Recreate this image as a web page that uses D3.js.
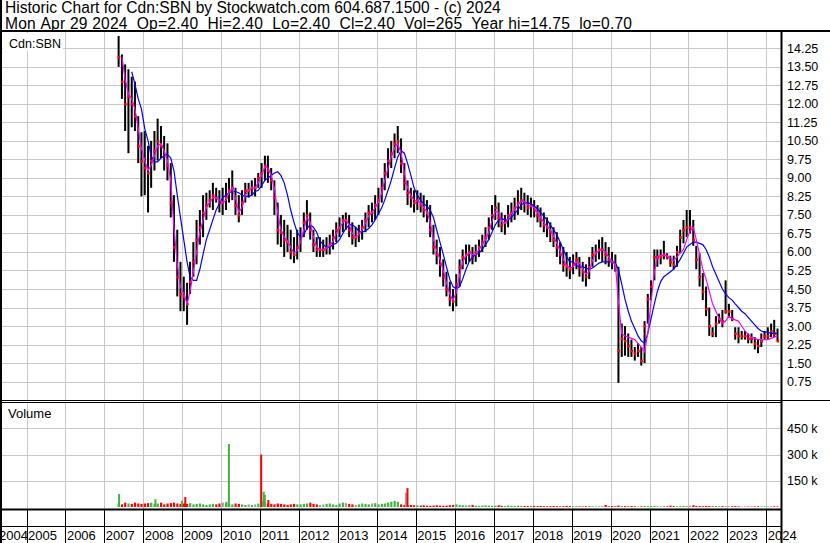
<!DOCTYPE html>
<html><head><meta charset="utf-8">
<script src="https://cdn.jsdelivr.net/npm/d3@7"></script>
<style>html,body{margin:0;padding:0;background:#fff;overflow:hidden}svg{display:block;font-family:"Liberation Sans",Arial,sans-serif}</style>
</head><body><svg id="c" width="830" height="543"></svg>
<script>
// ---------- data (monthly, May 2007 .. Apr 2024) ----------
const firstMonth = [2007, 5];
const yearTicks = [2004,2005,2006,2007,2008,2009,2010,2011,2012,2013,2014,2015,2016,2017,2018,2019,2020,2021,2022,2023,2024];
const priceTicks = [0.75,1.5,2.25,3,3.75,4.5,5.25,6,6.75,7.5,8.25,9,9.75,10.5,11.25,12,12.75,13.5,14.25];
const volumeTicks = [150,300,450];

const high = [
 14.75,14.0,13.6,13.4,13.1,12.9,11.5,10.85,
 10.9,10.3,10.5,10.9,11.4,11.1,10.7,10.4,9.6,8.3,6.9,5.6,
 5.0,4.75,5.6,6.4,7.3,7.7,8.3,8.4,8.5,8.8,8.6,8.5,
 8.6,8.8,9.0,9.3,8.6,8.3,8.5,8.8,8.8,8.9,9.0,9.2,
 9.6,9.9,9.9,9.4,8.9,8.0,7.5,7.3,7.1,6.9,6.6,6.9,
 7.0,7.6,8.1,7.6,6.9,6.6,6.6,6.5,6.6,6.7,6.9,7.2,
 7.4,7.5,7.6,7.5,7.2,7.0,7.1,7.3,7.6,7.9,8.0,8.3,
 8.6,9.0,9.6,10.2,10.5,10.8,11.1,10.6,9.6,8.9,8.6,8.5,
 8.5,8.4,8.3,8.1,7.9,7.1,6.5,6.2,5.7,5.2,4.8,4.5,
 5.1,5.7,6.1,6.3,6.3,6.2,6.3,6.5,6.7,7.0,7.4,7.9,
 8.3,8.0,7.6,7.5,7.9,8.0,8.2,8.5,8.6,8.4,8.3,8.2,
 8.1,7.9,7.8,7.6,7.4,7.2,7.0,6.8,6.4,6.2,6.0,5.8,
 5.9,6.0,5.8,5.6,5.5,5.8,6.2,6.3,6.5,6.6,6.4,6.2,
 6.0,5.9,5.4,3.1,3.0,2.7,2.45,2.15,2.3,2.15,3.2,4.3,
 4.85,6.1,6.1,6.1,6.45,5.95,5.85,5.85,6.25,6.9,7.3,7.7,
 7.7,7.3,6.25,5.95,5.15,4.6,3.75,2.95,3.4,3.5,3.65,4.85,
 3.9,3.65,2.95,2.95,2.8,2.8,2.7,2.7,2.55,2.45,2.7,2.8,
 2.95,3.1,3.25,2.9];
const low = [
 13.5,12.2,10.9,10.0,11.05,10.9,9.6,8.25,
 8.3,7.6,8.6,9.3,9.7,9.8,9.3,8.9,7.4,5.6,4.2,3.6,
 3.6,3.05,4.3,5.0,5.5,6.3,6.6,7.3,7.8,7.7,8.0,7.6,
 7.5,7.7,8.0,8.1,7.5,7.2,7.5,8.0,8.2,8.3,8.25,8.6,
 8.6,8.9,8.8,8.5,7.5,6.3,6.2,5.8,6.0,5.7,5.55,5.7,
 6.0,6.6,6.9,6.5,6.0,5.8,5.8,5.8,5.9,5.9,6.1,6.4,
 6.6,6.8,6.9,6.6,6.3,6.2,6.4,6.5,6.8,7.0,7.2,7.3,
 7.5,8.0,8.5,9.0,9.4,9.8,10.0,9.2,8.5,7.9,7.8,7.6,
 7.7,7.6,7.4,7.2,6.6,5.9,5.5,5.0,4.6,4.2,3.8,3.6,
 3.8,4.6,5.3,5.5,5.6,5.5,5.6,5.8,6.0,6.2,6.5,6.9,
 7.3,7.0,6.8,6.7,7.0,7.2,7.3,7.5,7.7,7.6,7.5,7.4,
 7.4,7.2,7.0,6.8,6.6,6.4,6.2,5.8,5.5,5.2,5.0,4.9,
 5.1,5.3,5.0,4.8,4.6,4.9,5.4,5.6,5.7,5.6,5.5,5.4,
 5.3,5.2,0.7,1.75,1.8,1.75,1.75,1.6,1.75,1.4,1.5,3.1,
 4.05,4.85,5.4,5.5,5.7,5.7,5.4,5.3,5.4,5.95,6.35,6.6,
 6.75,6.25,5.3,4.6,4.05,3.4,2.6,2.55,2.55,3.1,2.95,3.5,
 3.35,3.2,2.45,2.3,2.45,2.45,2.3,2.3,2.05,1.9,2.15,2.45,
 2.45,2.55,2.55,2.4];
const close = [
 13.9,12.9,12.0,12.3,12.0,11.5,10.3,9.7,
 9.4,9.2,9.7,10.1,10.5,10.3,9.9,9.5,8.0,6.2,5.0,4.3,
 4.2,3.9,4.8,5.6,6.5,7.0,7.6,7.9,8.1,8.3,8.2,8.0,
 8.0,8.2,8.5,8.6,7.9,7.5,8.0,8.5,8.5,8.6,8.6,9.0,
 9.2,9.5,9.3,8.9,8.2,6.9,6.8,6.5,6.4,6.0,5.9,6.2,
 6.6,7.2,7.5,6.9,6.3,6.1,6.1,6.1,6.2,6.3,6.6,6.9,
 7.0,7.3,7.3,6.9,6.6,6.6,6.8,7.0,7.3,7.6,7.6,7.9,
 8.1,8.6,9.2,9.7,10.0,10.4,10.5,9.6,8.8,8.4,8.2,8.0,
 8.1,7.9,7.7,7.6,6.9,6.2,5.9,5.5,5.0,4.5,4.1,4.0,
 4.7,5.4,5.8,5.9,6.0,5.8,6.0,6.2,6.4,6.6,7.0,7.5,
 7.8,7.4,7.1,7.2,7.5,7.6,7.8,8.0,8.1,8.0,7.8,7.9,
 7.7,7.5,7.3,7.1,7.0,6.8,6.5,6.2,5.9,5.5,5.4,5.3,
 5.5,5.7,5.4,5.2,5.0,5.4,5.9,6.0,6.1,6.1,5.9,5.7,
 5.6,5.4,2.0,2.5,2.4,2.2,2.0,1.9,2.0,1.6,3.0,4.1,
 4.6,5.8,5.8,5.8,5.9,5.8,5.6,5.5,6.0,6.6,6.9,7.0,
 7.0,6.5,5.7,5.0,4.4,3.7,3.0,2.7,3.1,3.3,3.2,3.6,
 3.6,3.3,2.7,2.6,2.6,2.6,2.5,2.5,2.3,2.2,2.4,2.6,
 2.6,2.8,2.7,2.4];
const maFast = [
 null,13.9,13.0,12.4,12.2,11.8,11.0,10.2,
 9.7,9.3,9.5,9.9,10.3,10.4,10.1,9.7,8.9,7.0,5.5,4.6,
 4.3,3.9,4.4,5.2,6.0,6.8,7.3,7.8,8.0,8.2,8.2,8.1,
 8.0,8.1,8.4,8.6,8.2,7.6,7.8,8.3,8.5,8.6,8.6,8.8,
 9.1,9.45,9.4,9.1,8.6,7.6,6.9,6.6,6.45,6.2,5.95,6.05,
 6.4,6.9,7.4,7.2,6.6,6.2,6.1,6.1,6.15,6.25,6.45,6.75,
 6.95,7.2,7.3,7.1,6.75,6.6,6.7,6.9,7.15,7.45,7.6,7.8,
 8.0,8.4,8.9,9.4,9.85,10.2,10.4,10.0,9.2,8.6,8.3,8.1,
 8.05,8.0,7.8,7.65,7.2,6.5,6.05,5.7,5.25,4.75,4.3,4.05,
 4.35,5.05,5.6,5.85,5.95,5.9,5.9,6.1,6.3,6.5,6.8,7.25,
 7.65,7.6,7.25,7.15,7.35,7.55,7.7,7.9,8.05,8.05,7.9,7.85,
 7.8,7.6,7.4,7.2,7.05,6.9,6.65,6.35,6.05,5.7,5.45,5.35,
 5.4,5.6,5.55,5.3,5.1,5.2,5.65,5.95,6.05,6.1,6.0,5.8,
 5.6,5.5,4.0,2.7,2.6,2.55,2.5,2.45,2.3,2.15,1.95,2.7,
 4.0,5.2,5.8,5.85,5.85,5.85,5.75,5.65,5.8,5.95,6.1,6.5,
 6.85,7.0,6.5,5.9,5.3,4.9,4.4,3.9,3.6,3.3,3.1,3.2,
 3.4,3.3,3.25,3.2,3.0,2.8,2.65,2.55,2.5,2.45,2.45,2.45,
 2.45,2.5,2.55,2.6];
const maSlow = [
 null,null,null,null,13.3,12.8,12.2,11.8,
 11.0,10.5,9.9,9.65,9.65,9.8,9.9,9.95,9.8,9.3,8.3,7.4,
 6.5,5.6,5.0,4.85,4.85,5.3,5.9,6.5,6.9,7.3,7.7,7.95,
 8.2,8.3,8.4,8.45,8.45,8.4,8.3,8.25,8.25,8.3,8.45,8.5,
 8.7,8.9,9.0,9.1,9.2,9.25,9.1,8.8,8.3,7.7,7.2,6.8,
 6.6,6.7,6.95,7.1,7.0,6.8,6.45,6.3,6.2,6.2,6.3,6.35,
 6.5,6.75,6.95,7.1,7.1,7.0,6.85,6.8,6.85,6.95,7.1,7.3,
 7.55,7.8,8.1,8.5,8.9,9.4,9.85,10.1,10.0,9.6,9.1,8.6,
 8.3,8.1,7.95,7.85,7.7,7.4,6.9,6.4,5.9,5.4,4.9,4.6,
 4.5,4.6,4.9,5.3,5.6,5.8,5.9,5.95,6.1,6.3,6.5,6.8,
 7.1,7.3,7.35,7.3,7.3,7.4,7.55,7.7,7.9,8.0,8.0,7.95,
 7.85,7.75,7.6,7.45,7.3,7.1,6.9,6.7,6.4,6.1,5.8,5.6,
 5.6,5.45,5.4,5.4,5.35,5.3,5.35,5.45,5.55,5.6,5.6,5.6,
 5.6,5.55,5.3,4.7,4.1,3.6,3.2,2.9,2.6,2.4,2.3,2.7,
 3.3,3.9,4.4,4.8,5.0,5.1,5.2,5.3,5.5,5.7,5.95,6.2,
 6.3,6.4,6.4,6.35,6.3,6.1,5.8,5.4,5.1,4.8,4.5,4.3,
 4.15,4.05,3.9,3.75,3.6,3.5,3.35,3.2,3.05,2.9,2.8,2.75,
 2.75,2.7,2.7,2.7];
const volume = [
 20,15,25,20,18,25,20,18,
 20,22,25,18,20,25,15,20,22,25,20,18,
 20,18,22,15,18,20,15,12,15,18,15,20,
 25,20,18,15,20,18,15,12,15,12,15,20,
 30,25,20,18,15,20,18,15,12,15,18,15,
 15,18,20,25,18,15,12,15,18,20,15,12,
 20,25,22,18,15,12,15,20,18,15,20,22,
 15,18,20,25,30,35,30,15,12,10,12,10,
 10,8,10,8,7,8,10,8,7,8,10,12,
 15,12,10,8,10,12,8,7,8,10,8,7,
 8,10,7,6,8,7,6,8,7,6,5,6,
 6,5,6,5,4,5,6,5,4,5,6,5,
 4,5,4,3,4,5,4,3,4,5,12,4,
 5,4,8,6,5,4,5,4,3,4,6,5,
 5,6,5,4,5,4,8,5,4,5,6,5,
 8,10,6,5,4,6,5,4,5,4,5,4,
 5,4,5,4,3,4,3,4,3,4,3,4,
 4,3,4,3];
const spikeDates = ["2007-05-10","2008-04-15","2008-12-20","2009-01-20","2010-02-10","2010-03-05","2011-01-02","2011-01-25","2011-02-05","2011-03-10","2014-09-20","2014-10-05"];
const spikeVolumes = [74,45,35,57,30,360,300,87,70,40,82,108];
const spikeColors = ["up","up","up","down","up","up","down","up","up","down","flat","down"];

const title1 = "Historic Chart for Cdn:SBN by Stockwatch.com 604.687.1500 - (c) 2024";
const title2 = "Mon Apr 29 2024  Op=2.40  Hi=2.40  Lo=2.40  Cl=2.40  Vol=265  Year hi=14.75  lo=0.70";

// ---------- layout ----------
const W = 830, H = 543;
const plotL = 2, plotR = 781;
const priceTop = 32, priceBot = 400;
const volTop = 403, volBot = 509;
const svg = d3.select("#c");
const colUp = "#3fb53f", colDown = "#ff0000", colFlat = "#a0a0a0";

const x = d3.scaleTime().domain([new Date(2005,0,1), new Date(2023,0,1)]).range([26.5, 727.4]);
const yP = d3.scaleLinear().domain([0, 14.25]).range([400.1, 48.3]);
const yV = d3.scaleLinear().domain([0, 450]).range([507, 428.3]);

const monthDate = (i, day) => new Date(firstMonth[0], firstMonth[1]-1+i, day);
const n = close.length;
const idx = d3.range(n);

svg.append("rect").attr("width",W).attr("height",H).attr("fill","#fff");

const defs = svg.append("defs");
defs.append("clipPath").attr("id","cp").append("rect").attr("x",plotL).attr("y",priceTop).attr("width",plotR-plotL).attr("height",priceBot-priceTop);
defs.append("clipPath").attr("id","cv").append("rect").attr("x",plotL).attr("y",volTop).attr("width",plotR-plotL).attr("height",volBot-volTop);

const yearX = yearTicks.map(y => x(new Date(y,0,1)));

// grids
const gp = svg.append("g").attr("clip-path","url(#cp)");
gp.selectAll(".hg").data(priceTicks).join("line")
  .attr("x1",plotL).attr("x2",plotR).attr("y1",d=>Math.round(yP(d))+0.5).attr("y2",d=>Math.round(yP(d))+0.5)
  .attr("stroke","#c8c8c8");
gp.selectAll(".vg").data(yearTicks).join("line")
  .attr("x1",d=>Math.round(x(new Date(d,0,1)))+0.5).attr("x2",d=>Math.round(x(new Date(d,0,1)))+0.5)
  .attr("y1",priceTop).attr("y2",priceBot).attr("stroke","#c8c8c8");

const gv = svg.append("g").attr("clip-path","url(#cv)");
gv.selectAll(".hg").data(volumeTicks).join("line")
  .attr("x1",plotL).attr("x2",plotR).attr("y1",d=>Math.round(yV(d))+0.5).attr("y2",d=>Math.round(yV(d))+0.5)
  .attr("stroke","#c8c8c8");
gv.selectAll(".vg").data(yearTicks).join("line")
  .attr("x1",d=>Math.round(x(new Date(d,0,1)))+0.5).attr("x2",d=>Math.round(x(new Date(d,0,1)))+0.5)
  .attr("y1",volTop).attr("y2",volBot).attr("stroke","#c8c8c8");

// price bars
gp.selectAll(".bar").data(idx).join("rect")
  .attr("x",i=>x(monthDate(i,1))+0.5).attr("width",2)
  .attr("y",i=>yP(high[i])).attr("height",i=>Math.max(1,yP(low[i])-yP(high[i])))
  .attr("fill","#000");
// close marks
gp.selectAll(".cl").data(idx).join("rect")
  .attr("x",i=>x(monthDate(i,15))-1).attr("width",2.6)
  .attr("y",i=>yP(close[i])-1).attr("height",2.6)
  .attr("fill","#ff0000");

const lineOf = arr => d3.line().defined(i=>arr[i]!=null).x(i=>x(monthDate(i,15))).y(i=>yP(arr[i]));
gp.append("path").datum(idx).attr("d",lineOf(maSlow)).attr("fill","none").attr("stroke","#0000ff").attr("stroke-width",1.2);
gp.append("path").datum(idx).attr("d",lineOf(maFast)).attr("fill","none").attr("stroke","#ff00ff").attr("stroke-width",1.2);

// volume bars
const volColor = i => i===0 || close[i]>close[i-1] ? colUp : (close[i]<close[i-1] ? colDown : colFlat);
gv.selectAll(".vb").data(idx).join("rect")
  .attr("x",i=>x(monthDate(i,1))+0.5).attr("width",2.2)
  .attr("y",i=>yV(volume[i])).attr("height",i=>yV(0)-yV(volume[i]))
  .attr("fill",volColor);
const parse = d3.timeParse("%Y-%m-%d");
gv.selectAll(".sp").data(spikeDates.map((d,k)=>k)).join("rect")
  .attr("x",k=>x(parse(spikeDates[k]))).attr("width",2)
  .attr("y",k=>yV(spikeVolumes[k])).attr("height",k=>yV(0)-yV(spikeVolumes[k]))
  .attr("fill",k=>spikeColors[k]==="up"?colUp:spikeColors[k]==="down"?colDown:colFlat);

// year labels (bottom band)
svg.append("g").selectAll("text").data(yearTicks).join("text")
  .attr("x",(d,k)=>Math.max(-1, yearX[k]+1.5)).attr("y",540)
  .attr("font-size",13).attr("fill","#000").text(d=>d);

// frame lines
const blk = (x1,y1,x2,y2,w) => svg.append("line").attr("x1",x1).attr("y1",y1).attr("x2",x2).attr("y2",y2).attr("stroke","#000").attr("stroke-width",w||1);
blk(0,31,W,31,2);
blk(0,400.5,W,400.5,1);
blk(0,402.5,plotR,402.5,1);
blk(0,509.5,plotR,509.5,2);
blk(0,526.5,plotR,526.5,1);
blk(plotR+0.5,31,plotR+0.5,H,2);
blk(1,0,1,H,2);
svg.append("g").selectAll("line").data(yearX.filter(v=>v>2 && v<plotR)).join("line")
  .attr("x1",d=>Math.round(d)+0.5).attr("x2",d=>Math.round(d)+0.5).attr("y1",510).attr("y2",H)
  .attr("stroke","#000");

// axis labels
const fmtP = d3.format(".2f");
svg.append("g").selectAll("text").data(priceTicks).join("text")
  .attr("x",787).attr("y",d=>yP(d)+4.5).attr("font-size",12.5).attr("fill","#000").text(d=>fmtP(d));
svg.append("g").selectAll("text").data(volumeTicks).join("text")
  .attr("x",787).attr("y",d=>yV(d)+4.5).attr("font-size",12.5).attr("fill","#000").text(d=>d+" k");

// panel labels
svg.append("rect").attr("x",3).attr("y",33).attr("width",60).attr("height",18).attr("fill","#fff");
svg.append("text").attr("x",9).attr("y",48).attr("font-size",12.5).text("Cdn:SBN");
svg.append("text").attr("x",8).attr("y",418).attr("font-size",13).text("Volume");

// header
const nb = s => s.replace(/ /g, "\u00A0");
svg.append("text").attr("x",5).attr("y",13).attr("font-size",15.6).attr("fill","#000").text(nb(title1));
svg.append("text").attr("x",5).attr("y",28.5).attr("font-size",15.6).attr("fill","#000")
  .attr("textLength",627).attr("lengthAdjust","spacing").text(nb(title2));
</script></body></html>
